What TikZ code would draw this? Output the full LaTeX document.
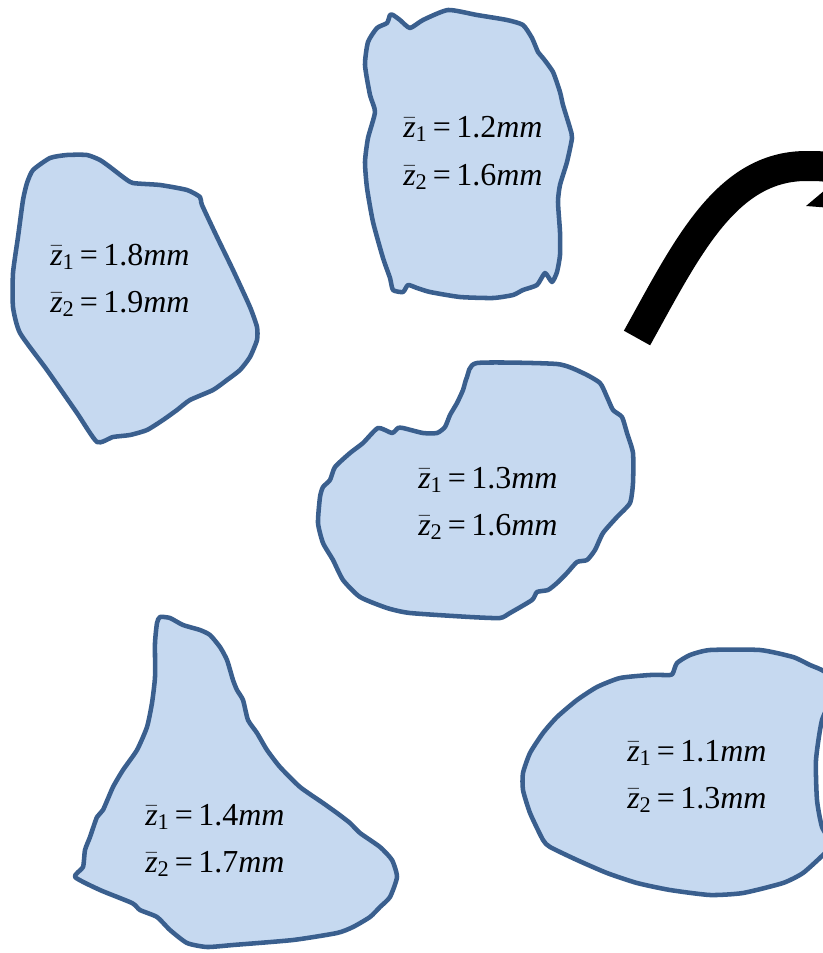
\documentclass[tikz,border=0pt]{standalone}
\usepackage{amsmath}
\usepackage{fontspec}
\setmainfont{Liberation Serif}
\definecolor{blobfill}{HTML}{C6D9F0}
\definecolor{blobline}{HTML}{3A5F8E}
\newcommand{\zlab}[2]{$\bar{\text{\itshape z}}_{\text{#1}}$\,=\,#2\textit{mm}}
\tikzset{
  blob/.style={fill=blobfill, draw=blobline, line width=3.4pt, line join=round},
  lab/.style={anchor=base west, inner sep=0pt, font=\fontsize{24}{28}\selectfont},
}
\begin{document}
\begin{tikzpicture}[x=0.75pt,y=-0.75pt]
\useasboundingbox (0,0) rectangle (823,953);
\clip (0,0) rectangle (823,953);

% blob 1 (top centre)
\draw[blob] plot[smooth cycle, tension=0.35] coordinates {
 (393,15) (400,20) (410,28) (423,20) (448,10) (477,15) (507,20) (523,25) (532,38)
 (538,52) (543,58) (553,72) (560,92) (563,105) (570,128) (572,138) (567,162)
 (560,185) (558,202) (560,232) (560,255) (557,272) (552,282) (545,273) (537,285)
 (523,290) (513,295) (493,298) (460,297) (430,292) (417,288) (408,285) (403,292)
 (393,290) (390,278) (383,258) (373,222) (367,188) (365,162) (368,138) (375,112)
 (370,95) (365,65) (368,42) (377,28) (387,23) (390,15)};
\node[lab] (a1) at (403,137) {\zlab{1}{1.2}};
\node[lab] (a2) at (403,185) {\zlab{2}{1.6}};

% blob 2 (left)
\draw[blob] plot[smooth cycle, tension=0.35] coordinates {
 (33,170) (50,158) (67,155) (87,155) (100,160) (110,167) (123,177) (133,183)
 (160,185) (187,190) (200,197) (202,205) (217,237) (233,270) (250,307) (257,327)
 (257,340) (250,357) (240,370) (227,380) (213,390) (190,400) (177,410) (163,420)
 (147,430) (130,435) (113,437) (97,442) (77,413) (47,370) (20,333) (13,307)
 (13,273) (18,237) (23,200) (27,183)};
\node[lab] (b1) at (50,265) {\zlab{1}{1.8}};
\node[lab] (b2) at (50,312) {\zlab{2}{1.9}};

% blob 3 (centre)
\draw[blob] plot[smooth cycle, tension=0.35] coordinates {
 (477,363) (557,364) (583,373) (600,383) (607,397) (613,410) (622,417) (627,433)
 (633,453) (633,483) (630,503) (617,517) (603,533) (595,550) (587,560) (577,562)
 (567,573) (557,583) (548,590) (537,592) (532,600) (510,613) (500,618) (470,617)
 (410,613) (387,608) (360,597) (343,580) (333,560) (323,543) (318,523) (320,497)
 (323,487) (330,480) (335,467) (350,453) (363,443) (378,428) (392,433) (398,428)
 (403,428) (423,433) (437,433) (445,427) (450,415) (457,403) (463,390) (467,377)};
\node[lab] (c1) at (418,488) {\zlab{1}{1.3}};
\node[lab] (c2) at (418,535) {\zlab{2}{1.6}};

% blob 4 (bottom left)
\draw[blob] plot[smooth cycle, tension=0.35] coordinates {
 (160,617) (170,618) (183,625) (200,630) (210,635) (220,647) (227,660) (233,680)
 (237,690) (243,700) (248,720) (257,733) (267,750) (280,767) (300,787) (323,803)
 (337,813) (350,823) (360,833) (380,847) (392,860) (397,877) (390,897) (380,907)
 (370,917) (353,927) (337,933) (293,940) (233,945) (207,947) (187,943) (170,930)
 (157,917) (140,910) (132,903) (100,890) (75,877) (83,867) (85,850) (90,837)
 (97,817) (103,810) (113,787) (123,770) (137,750) (147,727) (152,703) (155,677)
 (155,643) (157,623)};
\node[lab] (d1) at (145,825) {\zlab{1}{1.4}};
\node[lab] (d2) at (145,872) {\zlab{2}{1.7}};

% blob 5 (bottom right)
\draw[blob] plot[smooth cycle, tension=0.35] coordinates {
 (673,673) (677,663) (690,655) (710,650) (760,650) (793,657) (810,665) (825,672)
 (835,690) (822,720) (816,760) (817,800) (822,827) (832,845) (823,855)
 (803,873) (783,883) (743,893) (710,895) (670,890) (637,883) (607,873) (577,860)
 (550,847) (543,840) (530,813) (523,790) (523,773) (530,753) (543,733) (557,717)
 (577,700) (597,687) (620,678) (650,675) (670,675)};
\node[lab] (e1) at (627,761) {\zlab{1}{1.1}};
\node[lab] (e2) at (627,808) {\zlab{2}{1.3}};

% thick curved arrow (cut by the right edge)
\coordinate (s0) at (637,338);
\coordinate (s1) at (805,166);
\coordinate (s2) at (870,195);
\draw[line width=22.5pt] (s0) .. controls (686,250) and (725,167) .. (s1)
  .. controls (835,166) .. (s2);
\fill (806,206) -- (875,148) -- (885,212) -- cycle;
\end{tikzpicture}
\end{document}
